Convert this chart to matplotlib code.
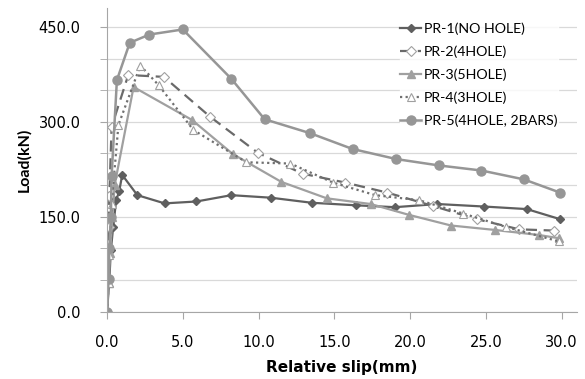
import matplotlib.pyplot as plt
from matplotlib.ticker import MultipleLocator

plt.rcParams['font.family'] = ['Lato', 'DejaVu Sans']

# data
pr1_x = [0, 0.15, 0.25, 0.4, 0.6, 0.8, 1.0, 2.0, 3.8, 5.9, 8.2, 10.8, 13.5, 16.4, 19.0, 21.8, 24.9, 27.7, 29.9]
pr1_y = [0, 50, 97, 133, 176, 190, 216, 184, 171, 174, 184, 180, 172, 168, 165, 170, 166, 162, 146]

pr2_x = [0, 0.05, 0.1, 0.15, 0.3, 1.4, 3.75, 6.8, 9.95, 12.9, 15.7, 18.5, 21.5, 24.4, 27.2, 29.5]
pr2_y = [0, 50, 134, 183, 292, 374, 371, 308, 251, 218, 204, 188, 167, 146, 130, 128]

pr3_x = [0, 0.1, 0.2, 0.35, 0.5, 1.75, 5.6, 8.3, 11.5, 14.5, 17.4, 19.9, 22.7, 25.6, 28.5, 29.8]
pr3_y = [0, 45, 92, 150, 200, 355, 303, 249, 205, 179, 170, 153, 136, 129, 121, 116]

pr4_x = [0, 0.1, 0.15, 0.3, 0.75, 2.2, 3.4, 5.7, 9.2, 12.1, 14.9, 17.7, 20.6, 23.5, 26.3, 29.8]
pr4_y = [0, 45, 90, 170, 295, 389, 358, 287, 236, 234, 204, 184, 176, 155, 134, 111]

pr5_x = [0, 0.1, 0.15, 0.25, 0.3, 0.65, 1.5, 2.8, 5.0, 8.2, 10.4, 13.4, 16.2, 19.1, 21.9, 24.7, 27.5, 29.9]
pr5_y = [0, 51, 100, 150, 214, 366, 425, 438, 446, 368, 304, 282, 257, 241, 231, 223, 209, 188]

fig = plt.figure(figsize=(5.85, 3.79), dpi=100)
ax = fig.add_axes([0.183, 0.178, 0.803, 0.801])

ax.plot(pr1_x, pr1_y, color='#5f5f5f', lw=1.6, marker='D', ms=4,
        label='PR-1(NO HOLE)')
ax.plot(pr2_x, pr2_y, color='#6a6a6a', lw=1.6, ls=(0, (5, 3)), marker='D', ms=5,
        mfc='white', mec='#a0a0a0', mew=0.8, label='PR-2(4HOLE)')
ax.plot(pr3_x, pr3_y, color='#a0a0a0', lw=1.6, marker='^', ms=5.5,
        label='PR-3(5HOLE)')
ax.plot(pr4_x, pr4_y, color='#707070', lw=1.6, ls=(0, (1, 1.5)), marker='^', ms=6,
        mfc='white', mec='#a0a0a0', mew=0.8, label='PR-4(3HOLE)')
ax.plot(pr5_x, pr5_y, color='#969696', lw=1.8, marker='o', ms=6.5,
        label='PR-5(4HOLE, 2BARS)')

ax.set_xlim(0, 31)
ax.set_ylim(0, 480)
ax.set_xticks([0, 5, 10, 15, 20, 25, 30])
ax.set_xticklabels(['0.0', '5.0', '10.0', '15.0', '20.0', '25.0', '30.0'])
ax.set_yticks([0, 150, 300, 450])
ax.set_yticklabels(['0.0', '150.0', '300.0', '450.0'])
ax.yaxis.set_minor_locator(MultipleLocator(50))
ax.grid(True, which='both', axis='y', color='#d9d9d9', lw=0.9)
ax.set_axisbelow(True)

for s in ['top', 'right']:
    ax.spines[s].set_visible(False)
for s in ['left', 'bottom']:
    ax.spines[s].set_color('#a6a6a6')
ax.tick_params(axis='both', which='both', colors='#a6a6a6', labelcolor='black',
               length=5)
ax.tick_params(axis='x', pad=12)
ax.tick_params(axis='y', pad=14)
for t in ax.get_xticklabels() + ax.get_yticklabels():
    t.set_fontfamily('DejaVu Sans')
    t.set_fontsize(10.5)

ax.set_xlabel('Relative slip(mm)', fontsize=11, fontweight='bold', labelpad=7,
              family='DejaVu Sans')
ax.set_ylabel('Load(kN)', fontsize=11.5, fontweight='bold', labelpad=5)

leg = fig.legend(loc='upper left', bbox_to_anchor=(0.684, 0.942), frameon=True,
                 fontsize=10.2, handlelength=1.5, handletextpad=0.2,
                 labelspacing=0.75, borderaxespad=0, borderpad=0)
leg.get_frame().set_facecolor('white')
leg.get_frame().set_edgecolor('white')

fig.savefig('out.png', dpi=100)
